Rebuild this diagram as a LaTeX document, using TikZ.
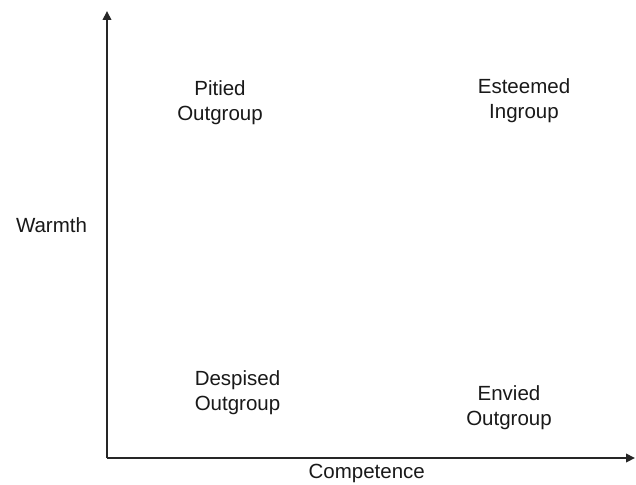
\documentclass[tikz,border=0pt]{standalone}
\usepackage{fontspec}
\setmainfont{Liberation Sans}
\usetikzlibrary{arrows.meta}
\begin{document}
\begin{tikzpicture}[x=1pt,y=-1pt,
  axis/.style={line width=2pt,draw=black!85,-{Triangle[length=9pt,width=8.5pt]}},
  label/.style={anchor=north,inner sep=0pt,align=center,
    font=\fontsize{20.5}{25}\selectfont,text=black!90}]
\useasboundingbox[fill=white] (0,0) rectangle (636,484);
% axes
\coordinate (origin) at (107,458);
\coordinate (ytip) at (107,11);
\coordinate (xtip) at (635,458);
\draw[axis] (origin) -- (ytip);
\draw[axis] (origin) -- (xtip);
% quadrant labels
\node[label] (pitied) at (220,80) {Pitied\\Outgroup};
\node[label] (esteemed) at (524,78) {Esteemed\\Ingroup};
\node[label] (despised) at (237.5,370) {Despised\\Outgroup};
\node[label] (envied) at (509,385) {Envied\\Outgroup};
% axis titles
\node[label] (warmth) at (51.5,217) {Warmth};
\node[label] (competence) at (366.7,464.3) {Competence};
\end{tikzpicture}
\end{document}
